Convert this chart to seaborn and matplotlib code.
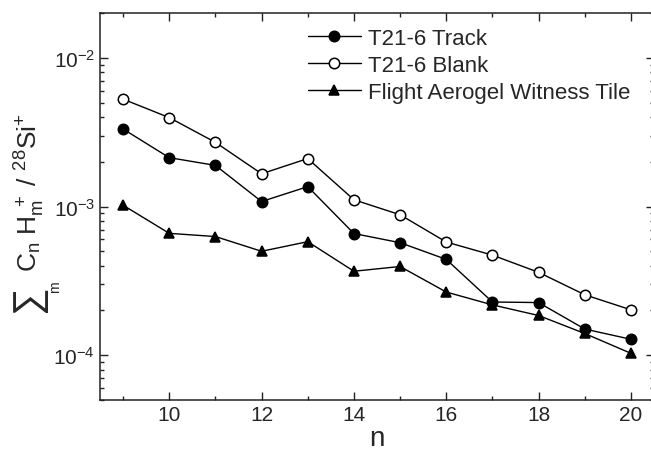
import matplotlib
matplotlib.use("Agg")
import matplotlib.pyplot as plt
import seaborn as sns
import numpy as np
from matplotlib.ticker import LogLocator, MultipleLocator, NullFormatter

n = [9, 10, 11, 12, 13, 14, 15, 16, 17, 18, 19, 20]
track = [3.32e-3, 2.13e-3, 1.89e-3, 1.08e-3, 1.36e-3, 6.58e-4, 5.71e-4, 4.41e-4, 2.28e-4, 2.26e-4, 1.50e-4, 1.28e-4]
blank = [5.27e-3, 3.96e-3, 2.70e-3, 1.66e-3, 2.10e-3, 1.11e-3, 8.8e-4, 5.77e-4, 4.71e-4, 3.61e-4, 2.55e-4, 2.02e-4]
witness = [1.02e-3, 6.6e-4, 6.28e-4, 5.0e-4, 5.8e-4, 3.67e-4, 3.95e-4, 2.66e-4, 2.18e-4, 1.85e-4, 1.40e-4, 1.03e-4]
labels = ["T21-6 Track", "T21-6 Blank", "Flight Aerogel Witness Tile"]

sns.set_style("ticks")
plt.rcParams['font.family'] = ['Liberation Sans', 'DejaVu Sans']
plt.rcParams['mathtext.fontset'] = 'custom'
plt.rcParams['mathtext.rm'] = 'Liberation Sans'
plt.rcParams['mathtext.it'] = 'Liberation Sans'
plt.rcParams['mathtext.bf'] = 'Liberation Sans:bold'

W, H = 651, 460
fig = plt.figure(figsize=(W/100, H/100), dpi=100)
ax = fig.add_axes([100/W, 1-401/H, 554/W, 387/H])

common = dict(color="black", linewidth=1.0, markersize=7.5, markeredgecolor="black", markeredgewidth=1.1)
sns.lineplot(x=n, y=track, marker="o", markerfacecolor="black", label=labels[0], ax=ax, **common)
sns.lineplot(x=n, y=blank, marker="o", markerfacecolor="white", label=labels[1], ax=ax, **common)
sns.lineplot(x=n, y=witness, marker="^", markerfacecolor="black", label=labels[2], ax=ax, **common)

ax.set_yscale("log")
ax.set_xlim(8.5, 20.5)
ax.set_ylim(5e-5, 2e-2)
ax.xaxis.set_major_locator(MultipleLocator(2))
ax.xaxis.set_minor_locator(MultipleLocator(1))
ax.yaxis.set_major_locator(LogLocator(base=10, numticks=10))
ax.yaxis.set_minor_locator(LogLocator(base=10, subs=np.arange(2, 10), numticks=20))
ax.yaxis.set_minor_formatter(NullFormatter())

ax.tick_params(which="both", direction="in", top=True, right=True, labelsize=15, width=1.0, color="#222222")
ax.tick_params(which="major", length=6)
ax.tick_params(which="minor", length=3)
for s in ax.spines.values():
    s.set_linewidth(1.1)
    s.set_color("#222222")

ax.set_xlabel("n", fontsize=20, labelpad=1)

# y label: large summation sign with subscript m, then the ratio text
fig.text(38/W, 1-313/H, "\u2211", fontsize=28, rotation=90, rotation_mode="anchor",
         ha="left", va="baseline")
fig.text(59/W, 1-293/H, "m", fontsize=10, rotation=90, rotation_mode="anchor",
         ha="left", va="baseline")
ax.set_ylabel(r"$\mathrm{C_{n}\ H_{m}^{\ +}\ /\ ^{28}Si^{+}}$", fontsize=19,
              rotation=90, rotation_mode="anchor", ha="left", va="baseline")
ax.yaxis.set_label_coords((38-100)/554, (401-272)/387)

leg = ax.legend(loc="upper left", bbox_to_anchor=(0.375, 0.962), frameon=False, fontsize=16,
                handlelength=2.4, handletextpad=0.3, labelspacing=0.28, borderpad=0, borderaxespad=0)

fig.savefig("out.png", dpi=100)
